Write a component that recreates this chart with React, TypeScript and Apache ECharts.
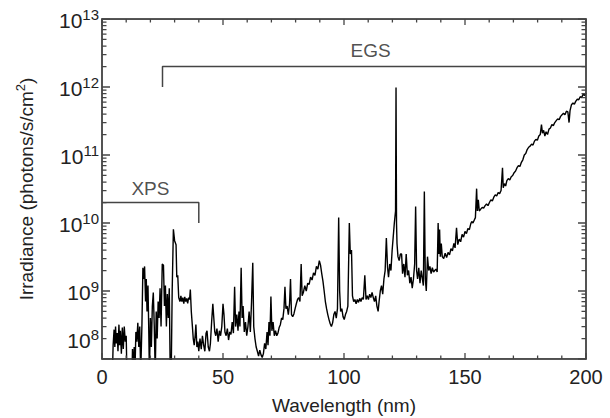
import React, { useEffect, useRef } from 'react';
import * as echarts from 'echarts';

// Solar spectrum: wavelength (nm) and irradiance (photons/s/cm^2)
const wavelengthNm = [
  4.3, 4.6, 5.0, 5.3, 5.6, 5.9, 6.3, 6.6, 7.0, 7.3, 7.6, 8.0, 8.4, 8.8, 9.2, 9.6, 10.0, 10.3, 12.4, 12.6,
  12.9, 13.3, 13.6, 14.0, 14.4, 14.8, 15.2, 15.6, 16.0, 16.5, 16.9, 17.3, 17.6, 18.0, 18.3, 18.6, 19.0, 19.3, 19.6, 20.0,
  20.4, 20.8, 21.2, 21.6, 22.0, 22.4, 22.8, 23.2, 23.6, 24.0, 24.4, 24.9, 25.4, 25.8, 26.2, 26.6, 27.0, 27.4, 27.8, 28.2,
  28.6, 29.0, 29.5, 30.0, 30.6, 30.9, 31.3, 31.7, 32.2, 32.6, 33.0, 33.4, 33.8, 34.2, 34.6, 35.0, 35.4, 35.8, 36.2, 36.5,
  36.9, 37.3, 37.7, 38.1, 38.5, 38.8, 39.2, 39.6, 40.0, 40.5, 41.0, 41.5, 42.0, 42.5, 43.0, 43.4, 43.9, 44.4, 44.8, 45.3,
  45.8, 46.2, 46.6, 47.0, 47.5, 48.0, 48.5, 49.0, 49.5, 50.0, 50.4, 50.8, 51.3, 51.8, 52.3, 52.8, 53.3, 53.8, 54.3, 54.8,
  55.2, 55.7, 56.2, 56.6, 57.0, 57.5, 57.9, 58.3, 58.8, 59.3, 59.8, 60.3, 60.8, 61.3, 61.8, 62.3, 62.7, 63.2, 63.7, 64.2,
  64.7, 65.2, 65.7, 66.2, 66.7, 67.2, 67.7, 68.2, 68.6, 69.0, 69.4, 69.8, 70.2, 70.7, 71.2, 71.7, 72.2, 72.7, 73.2, 73.7,
  74.2, 74.7, 75.2, 75.6, 76.0, 76.5, 77.0, 77.5, 77.9, 78.3, 78.8, 79.3, 79.8, 80.3, 80.8, 81.3, 81.8, 82.3, 82.7, 83.2,
  83.8, 84.4, 85.0, 85.6, 86.2, 86.8, 87.4, 88.0, 88.6, 89.2, 89.8, 90.3, 90.8, 91.3, 91.8, 92.3, 92.8, 93.3, 93.8, 94.3,
  94.8, 95.3, 95.8, 96.3, 96.8, 97.3, 97.8, 98.2, 98.6, 99.1, 99.6, 100.1, 100.6, 101.1, 101.6, 102.2, 102.6, 103.1, 103.5, 104.0,
  104.5, 105.0, 105.5, 106.0, 106.5, 107.0, 107.5, 108.0, 108.6, 109.1, 109.6, 110.1, 110.6, 111.1, 111.6, 112.1, 112.6, 113.1, 113.6, 114.1,
  114.5, 115.0, 115.5, 116.0, 116.5, 117.0, 117.5, 118.0, 118.4, 118.9, 119.4, 119.9, 120.3, 120.8, 121.3, 121.5, 121.7, 121.9, 122.3, 122.8,
  123.3, 123.8, 124.2, 124.7, 125.2, 125.7, 126.2, 126.7, 127.2, 127.7, 128.2, 128.7, 129.2, 129.6, 130.0, 130.4, 130.9, 131.4, 131.9, 132.4,
  132.8, 133.2, 133.6, 134.0, 134.5, 135.0, 135.5, 136.0, 136.5, 137.0, 137.5, 138.0, 138.5, 138.9, 139.2, 139.5, 139.8, 140.2, 140.6, 141.2,
  141.8, 142.4, 143.0, 143.6, 144.2, 144.8, 145.4, 145.9, 146.5, 147.0, 147.6, 148.2, 148.8, 149.4, 150.0, 150.6, 151.2, 151.8, 152.4, 152.8,
  153.3, 153.8, 154.3, 154.8, 155.1, 155.5, 155.9, 156.5, 157.1, 157.7, 158.3, 158.9, 159.5, 160.1, 160.7, 161.3, 161.9, 162.5, 163.1, 163.7,
  164.3, 164.9, 165.5, 165.8, 166.3, 166.8, 167.3, 167.9, 168.5, 169.1, 169.7, 170.3, 170.9, 171.5, 172.1, 172.7, 173.3, 173.9, 174.5, 175.1,
  175.7, 176.3, 176.9, 177.5, 178.1, 178.7, 179.3, 179.9, 180.5, 181.1, 181.6, 182.0, 182.5, 183.0, 183.5, 184.1, 184.7, 185.3, 185.9, 186.5,
  187.1, 187.7, 188.3, 188.9, 189.5, 190.1, 190.7, 191.3, 191.9, 192.5, 193.0, 193.4, 194.0, 194.6, 195.2, 195.8, 196.4, 197.0, 197.6, 198.2,
  198.8, 199.4, 200.0,
];

const irradiance = [
  6e7, 1.6e8, 2.7e8, 1.5e8, 3.0e8, 1.7e8, 2.4e8, 1.3e8, 3.2e8, 1.6e8, 2.6e8, 1.2e8, 2.9e8, 1.4e8, 3.0e8, 1.8e8, 2.2e8, 6e7, 6e7, 1.4e8,
  6e7, 1.5e8, 6e7, 2.5e8, 1.8e8, 3.4e8, 1.5e8, 3.0e8, 6e7, 3.2e8, 2.2e9, 1.5e9, 2.3e9, 7e8, 1.5e9, 5e8, 1.2e9, 3e8, 6e7, 4e8,
  1.5e8, 6e8, 9.5e8, 3e8, 6e7, 5e8, 2e8, 7e8, 4e8, 1.1e9, 3e8, 2.5e9, 2.4e9, 6e8, 1.2e9, 3e8, 9e8, 4e8, 1.1e9, 6e7,
  6e7, 1.0e9, 8.1e9, 5.5e9, 4.8e9, 1.6e9, 1.7e9, 8e8, 7e8, 8.5e8, 7e8, 8e8, 6.5e8, 8.2e8, 7e8, 7.8e8, 6.6e8, 8e8, 7.5e8, 1.05e9,
  5e8, 3.2e8, 2e8, 1.6e8, 2.2e8, 3.2e8, 1.5e8, 1.8e8, 1.3e8, 2e8, 1.4e8, 2.2e8, 1.6e8, 1.3e8, 2.4e8, 2.6e8, 1.5e8, 1.3e8, 1.7e8, 3.5e8,
  6.5e8, 4e8, 2.5e8, 2.2e8, 2.8e8, 1.8e8, 2.6e8, 2.2e8, 3.0e8, 6.5e8, 4.5e8, 2.5e8, 2.2e8, 2.8e8, 1.9e8, 2.5e8, 2.3e8, 3.5e8, 2.4e8, 1.15e9,
  3e8, 4.5e8, 2.6e8, 5e8, 3e8, 2.2e9, 4e8, 6e8, 2.5e8, 3.5e8, 2.2e8, 3e8, 5e8, 2.5e8, 7e8, 2.6e9, 3e8, 2e8, 1.5e8, 1.3e8,
  1.1e8, 1.35e8, 1.15e8, 1.05e8, 1.2e8, 1.7e8, 1.4e8, 2.5e8, 1.6e8, 3.5e8, 2.2e8, 8.3e8, 2.6e8, 3.5e8, 2.2e8, 2.6e8, 2.2e8, 2.4e8, 2.9e8, 3.2e8,
  4.0e8, 3.8e8, 5.5e8, 1.15e9, 5.5e8, 6e8, 4.5e8, 6.5e8, 1.5e9, 4.5e8, 4.2e8, 4.6e8, 5.5e8, 6.5e8, 7.5e8, 8e8, 7e8, 2.5e9, 8.5e8, 9.5e8,
  1.2e9, 1.0e9, 1.3e9, 1.25e9, 1.6e9, 1.45e9, 1.85e9, 1.7e9, 2.3e9, 2.1e9, 2.8e9, 2.4e9, 1.8e9, 1.4e9, 1.0e9, 7e8, 5.5e8, 4.5e8, 3.8e8, 3.3e8,
  3.0e8, 3.4e8, 4.5e8, 5e8, 4e8, 5.5e8, 1.2e10, 1.0e9, 5e8, 5.5e8, 4.2e8, 3.8e8, 4.5e8, 5e8, 6e8, 1e10, 3.5e9, 4e9, 8.5e8, 7e8,
  7.5e8, 6.5e8, 7.5e8, 6.8e8, 7.8e8, 7e8, 8e8, 7.5e8, 1.7e9, 7.5e8, 8.5e8, 7.5e8, 9e8, 8e8, 9.5e8, 8e8, 7e8, 8.5e8, 6e8, 5e8,
  7e8, 1.0e9, 1.2e9, 9e8, 1.5e9, 2e9, 6e9, 2.2e9, 1.6e9, 2.5e9, 2.0e9, 4e9, 6e9, 1.0e10, 1.5e10, 9.8e11, 1e10, 5e9, 3.2e9, 2.8e9,
  3.5e9, 3.5e9, 1.8e9, 2.5e9, 1.6e9, 3.5e9, 1.7e9, 2.0e9, 1.3e9, 1.6e9, 1.1e9, 1.5e9, 2.5e9, 1.75e10, 2e9, 1.5e9, 2.2e9, 1.3e9, 2e9, 1.5e9,
  1.2e9, 2.9e10, 1.5e9, 1.0e9, 3.2e9, 2e9, 2.3e9, 1.8e9, 2.2e9, 1.9e9, 2.0e9, 2.1e9, 1.9e9, 1.0e10, 3.5e9, 8e9, 3.2e9, 5e9, 3.2e9, 3.0e9,
  3.6e9, 3.1e9, 3.7e9, 3.4e9, 4.2e9, 3.9e9, 5e9, 4.3e9, 8.5e9, 4.8e9, 5.8e9, 5.3e9, 6.8e9, 6.2e9, 7.5e9, 7.0e9, 8.3e9, 8.0e9, 9.8e9, 1.05e10,
  1.0e10, 1.1e10, 1.2e10, 3.2e10, 1.5e10, 2.2e10, 1.5e10, 1.6e10, 1.7e10, 1.65e10, 1.8e10, 1.9e10, 1.8e10, 2.0e10, 2.2e10, 2.1e10, 2.4e10, 2.6e10, 2.5e10, 2.8e10,
  2.7e10, 3.0e10, 6.5e10, 3.3e10, 3.8e10, 3.5e10, 4.2e10, 4.5e10, 4.3e10, 4.8e10, 5e10, 5.5e10, 5.8e10, 6.5e10, 7e10, 6.8e10, 7.8e10, 8.5e10, 1.0e11, 1.05e11,
  1.2e11, 1.3e11, 1.35e11, 1.45e11, 1.4e11, 1.6e11, 1.7e11, 1.65e11, 1.9e11, 2.0e11, 2.8e11, 2.1e11, 2.3e11, 1.9e11, 2.2e11, 2.0e11, 2.4e11, 2.5e11, 2.8e11, 2.7e11,
  3.0e11, 3.2e11, 3.4e11, 3.3e11, 3.7e11, 3.9e11, 4.1e11, 3.9e11, 4.4e11, 4.3e11, 3.0e11, 4.5e11, 5.5e11, 5.8e11, 5.6e11, 6.2e11, 6.6e11, 6.5e11, 7.2e11, 7.0e11,
  7.8e11, 7.5e11, 8.2e11,
];

// Instrument coverage brackets
const xpsBracketX = [0, 40, 40];
const xpsBracketY = [2e10, 2e10, 1e10];
const egsBracketX = [25, 25, 200];
const egsBracketY = [1e12, 2e12, 2e12];
const instrumentNames = ['XPS', 'EGS'];
const instrumentLabelX = [20, 111];
const instrumentLabelY = [2e10, 2e12];

// Axes
const xRange = [0, 200];
const yRange = [1e8, 1e13];
const xMajorTicks = [0, 50, 100, 150, 200];
const xMinorTicks = [10, 20, 30, 40, 60, 70, 80, 90, 110, 120, 130, 140, 160, 170, 180, 190];
const yMajorTicks = [1e8, 1e9, 1e10, 1e11, 1e12, 1e13];
const yMinorMultipliers = [2, 3, 4, 5, 6, 7, 8, 9];
const shiftedLabelValue = 2e8; // the "10^8" label sits at the 2x10^8 tick in the original

const FONT = '"Liberation Sans", Arial, Helvetica, sans-serif';
const AXIS_COLOR = '#444';
const TEXT_COLOR = '#222';

const powRich = {
  b: { fontSize: 21, lineHeight: 24, verticalAlign: 'bottom', fontFamily: FONT, color: TEXT_COLOR },
  s: { fontSize: 15, lineHeight: 13, verticalAlign: 'top', fontFamily: FONT, color: TEXT_COLOR },
};

export default function App() {
  const ref = useRef<HTMLDivElement>(null);

  useEffect(() => {
    if (!ref.current) return;
    const chart = echarts.init(ref.current, null, { renderer: 'svg' });

    const axisLine = { show: true, onZero: false, lineStyle: { color: AXIS_COLOR, width: 1.5 } };
    const xBase = {
      type: 'value',
      min: xRange[0],
      max: xRange[1],
      interval: 50,
      axisLine,
      axisTick: { show: false },
      minorTick: { show: false },
      splitLine: { show: false },
    };
    const yBase = {
      type: 'log',
      logBase: 10,
      min: yRange[0],
      max: yRange[1],
      axisLine,
      axisTick: { show: false },
      minorTick: { show: false },
      splitLine: { show: false },
    };

    const spectrum = wavelengthNm.map((w, i) => [w, irradiance[i]]);
    const xps = xpsBracketX.map((w, i) => [w, xpsBracketY[i]]);
    const egs = egsBracketX.map((w, i) => [w, egsBracketY[i]]);
    const labelDistances = [5, 7];

    const baseSeries: any[] = [
      {
        type: 'line',
        data: spectrum,
        symbol: 'none',
        showSymbol: false,
        lineStyle: { color: '#000', width: 1.4 },
        z: 3,
      },
      {
        type: 'line',
        data: xps,
        symbol: 'none',
        showSymbol: false,
        lineStyle: { color: AXIS_COLOR, width: 1.5 },
        z: 4,
      },
      {
        type: 'line',
        data: egs,
        symbol: 'none',
        showSymbol: false,
        lineStyle: { color: AXIS_COLOR, width: 1.5 },
        z: 4,
      },
      {
        type: 'scatter',
        symbolSize: 0,
        data: instrumentNames.map((n, i) => ({
          name: n,
          value: [instrumentLabelX[i], instrumentLabelY[i]],
          label: { distance: labelDistances[i] },
        })),
        label: {
          show: true,
          position: 'top',
          formatter: (p: any) => p.name,
          fontSize: 19,
          fontFamily: FONT,
          color: TEXT_COLOR,
        },
        silent: true,
        z: 5,
      },
    ];

    chart.setOption({
      animation: false,
      backgroundColor: '#fff',
      grid: { left: 102, right: 24, top: 19, bottom: 59, containLabel: false, outerBoundsMode: 'none' },
      xAxis: [
        {
          ...xBase,
          position: 'bottom',
          name: 'Wavelength (nm)',
          nameLocation: 'middle',
          nameGap: 37,
          nameTextStyle: { fontSize: 19, fontFamily: FONT, color: TEXT_COLOR },
          axisLabel: { show: true, margin: 8, fontSize: 20, fontFamily: FONT, color: TEXT_COLOR },
        },
        { ...xBase, position: 'top', axisLabel: { show: false } },
      ],
      yAxis: [
        {
          ...yBase,
          position: 'left',
          name: '{t|Irradiance (photons/s/cm}{u|2}{t|)}',
          nameLocation: 'middle',
          nameGap: 66,
          nameRotate: 90,
          nameTextStyle: {
            fontFamily: FONT,
            color: TEXT_COLOR,
            rich: {
              t: { fontSize: 19, lineHeight: 22, verticalAlign: 'bottom', fontFamily: FONT, color: TEXT_COLOR },
              u: { fontSize: 13, lineHeight: 12, verticalAlign: 'top', fontFamily: FONT, color: TEXT_COLOR },
            },
          },
          axisLabel: {
            show: true,
            margin: 3,
            fontFamily: FONT,
            color: TEXT_COLOR,
            formatter: (v: number) => {
              const e = Math.round(Math.log10(v));
              if (e <= 8) return '';
              return `{b|10}{s|${e}}`;
            },
            rich: powRich,
          },
        },
        { ...yBase, position: 'right', axisLabel: { show: false } },
      ],
      series: baseSeries,
    });

    // Inward ticks: one comb-shaped line series per side (like the bracket lines),
    // tick ends found through the axis scales.
    const toX = (v: number) => chart.convertToPixel({ xAxisIndex: 0 }, v) as number;
    const toY = (v: number) => chart.convertToPixel({ yAxisIndex: 0 }, v) as number;
    const fromX = (p: number) => chart.convertFromPixel({ xAxisIndex: 0 }, p) as number;
    const fromY = (p: number) => chart.convertFromPixel({ yAxisIndex: 0 }, p) as number;
    const left = toX(xRange[0]);
    const right = toX(xRange[1]);
    const bottom = toY(yRange[0]);
    const top = toY(yRange[1]);

    const xTicks: [number, number][] = [
      ...xMajorTicks.map((v) => [v, 6] as [number, number]),
      ...xMinorTicks.map((v) => [v, 3.5] as [number, number]),
    ].sort((a, b) => a[0] - b[0]);
    const yTicks: [number, number][] = [...yMajorTicks.map((v) => [v, 8] as [number, number])];
    yMajorTicks.slice(0, -1).forEach((d) => yMinorMultipliers.forEach((m) => yTicks.push([m * d, 4.5])));
    yTicks.sort((a, b) => a[0] - b[0]);

    const bottomComb: number[][] = [];
    const topComb: number[][] = [];
    xTicks.forEach(([v, len]) => {
      bottomComb.push([v, yRange[0]], [v, fromY(bottom - len)], [v, yRange[0]]);
      topComb.push([v, yRange[1]], [v, fromY(top + len)], [v, yRange[1]]);
    });
    const leftComb: number[][] = [];
    const rightComb: number[][] = [];
    yTicks.forEach(([v, len]) => {
      leftComb.push([xRange[0], v], [fromX(left + len), v], [xRange[0], v]);
      rightComb.push([xRange[1], v], [fromX(right - len), v], [xRange[1], v]);
    });

    const comb = (data: number[][]) => ({
      type: 'line',
      data,
      symbol: 'none',
      showSymbol: false,
      lineStyle: { color: AXIS_COLOR, width: 1.3 },
      z: 4,
    });

    chart.setOption({
      series: [...baseSeries, comb(bottomComb), comb(topComb), comb(leftComb), comb(rightComb)],
      graphic: [
        {
          type: 'text',
          x: left - 3,
          y: toY(shiftedLabelValue),
          style: {
            text: '{b|10}{s|8}',
            rich: powRich,
            align: 'right',
            verticalAlign: 'middle',
            fontFamily: FONT,
            fill: TEXT_COLOR,
          },
        },
      ],
    });

    return () => chart.dispose();
  }, []);

  return (
    <div
      ref={ref}
      style={{ position: 'fixed', left: 0, top: 0, width: 610, height: 418, background: '#fff' }}
    />
  );
}
